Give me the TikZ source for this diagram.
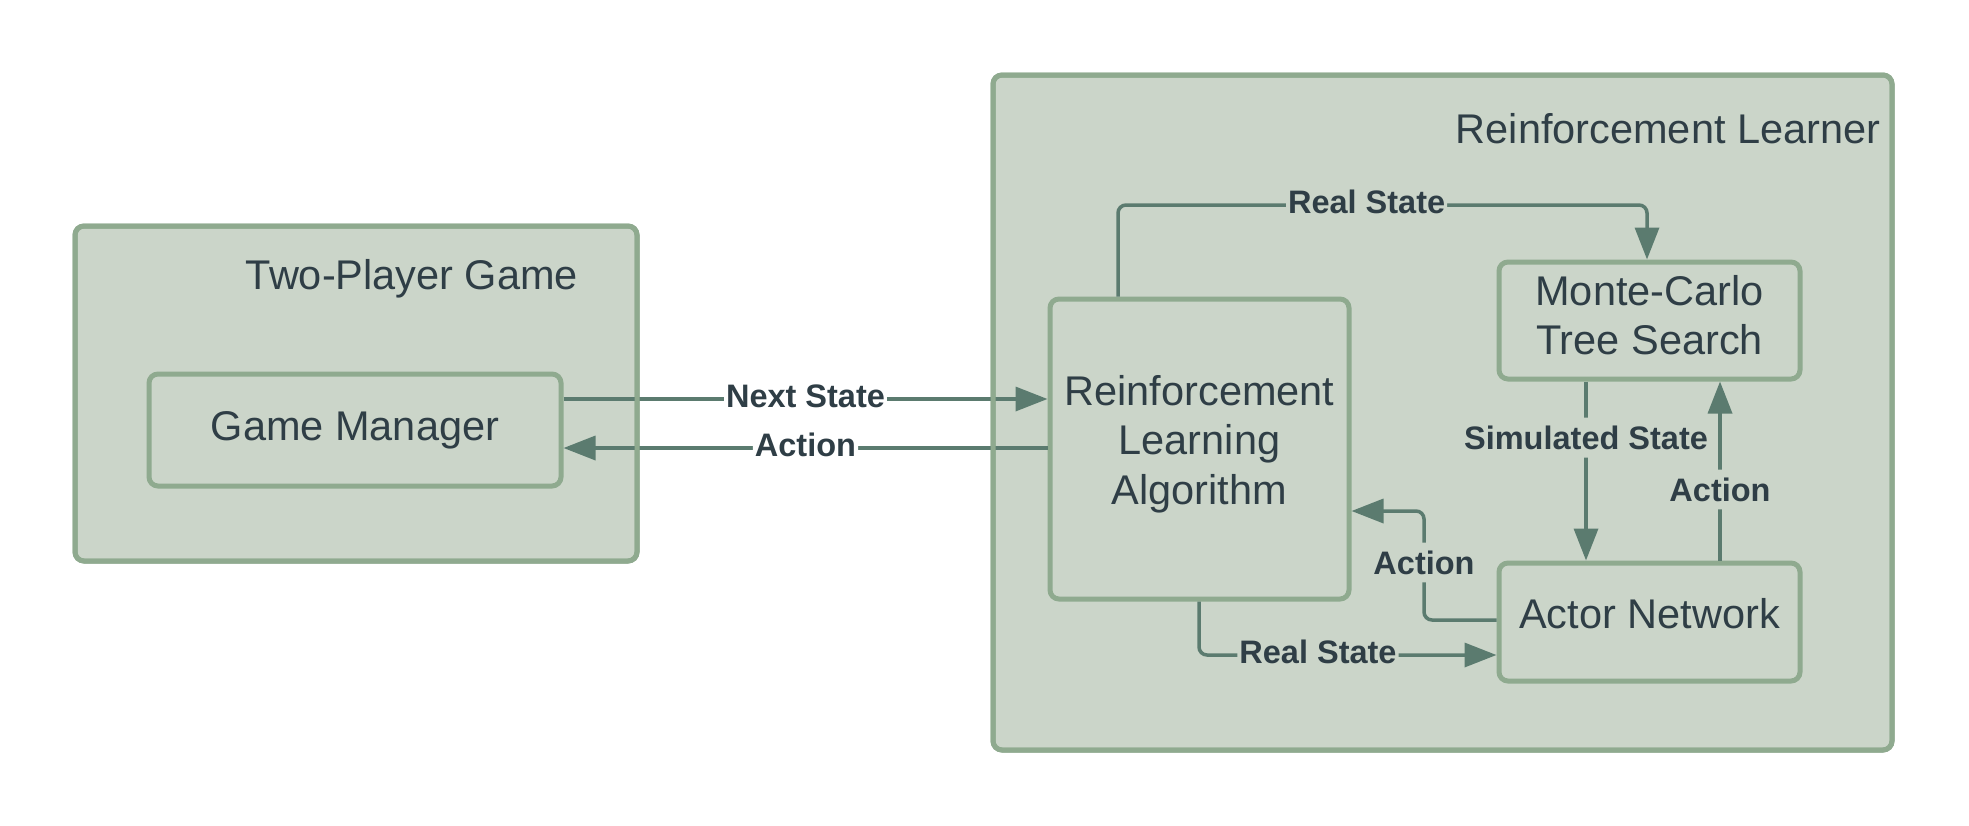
\documentclass[tikz,border=0pt]{standalone}
\usepackage{fontspec}
\setmainfont{Liberation Sans}
\usetikzlibrary{arrows.meta,calc}
\definecolor{sage}{HTML}{CBD5C9}
\definecolor{sageb}{HTML}{8FAA8F}
\definecolor{arr}{HTML}{5B7B6F}
\definecolor{txt}{HTML}{2F3E46}
\begin{document}
\begin{tikzpicture}[x=1pt,y=-1pt,
 group/.style={draw=sageb,fill=sage,line width=5pt,rounded corners=9pt,inner sep=0pt,outer sep=0pt},
 groupline/.style={draw=sageb,line width=5pt,rounded corners=9pt},
 box/.style={draw=sageb,fill=sage,line width=5pt,rounded corners=9pt,align=center,text=txt,font=\fontsize{41.5}{49.5}\selectfont,inner sep=0pt},
 title/.style={text=txt,font=\fontsize{41.5}{48}\selectfont,inner sep=0pt},
 conn/.style={draw=arr,line width=3.5pt,rounded corners=8pt,-{Triangle[length=32pt,width=24pt]}},
 lbl/.style={text=txt,font=\fontsize{32.5}{38}\selectfont\bfseries,fill=sage,inner xsep=2pt,inner ysep=8pt,yshift=3pt},
]
\useasboundingbox (0,0) rectangle (1969,825);
% groups
\node[group,minimum width=562pt,minimum height=335pt] (lg) at (356,393.5) {};
\node[group,minimum width=899pt,minimum height=675pt] (rg) at (1442.5,412.5) {};
\node[title] (lgt) at (412,279) {Two-Player Game};
\node[title] (rgt) at (1668,129) {Reinforcement Learner};
% boxes
\node[box,minimum width=412pt,minimum height=112pt] (gm) at (355,430) {Game Manager};
\node[box,minimum width=299pt,minimum height=300pt,text depth=19pt] (rl) at (1199.5,449) {Reinforcement\\Learning\\Algorithm};
\node[box,minimum width=301pt,minimum height=117pt,text depth=11pt] (mcts) at (1649.5,320.5) {Monte-Carlo\\Tree Search};
\node[box,minimum width=301pt,minimum height=118pt,text depth=18pt] (actor) at (1649.5,622) {Actor Network};
% connectors
\draw[conn] (gm.east |- 0,399) -- node[lbl,fill=white,pos=0.5]{Next State} (rl.west |- 0,399);
\draw[conn] (rl.west |- 0,448) -- node[lbl,fill=white,pos=0.5]{Action} (gm.east |- 0,448);
\draw[conn] (rl.north -| 1118,0) -- (1118,205) -- node[lbl,pos=0.47]{Real State} (1647,205) -- (mcts.north -| 1647,0);
\draw[conn] (mcts.south -| 1586,0) -- node[lbl,pos=0.33]{Simulated State} (actor.north -| 1586,0);
\draw[conn] (actor.north -| 1720,0) -- node[lbl,pos=0.38]{Action} (mcts.south -| 1720,0);
\draw[conn] (actor.west |- 0,620) -- (1424,620) -- node[lbl]{Action} (1424,511) -- (rl.east |- 0,511);
\draw[conn] (rl.south -| 1199,0) -- (1199,655) -- node[lbl,pos=0.4]{Real State} (actor.west |- 0,655);
% group borders over connectors
\draw[groupline] (lg.north west) rectangle (lg.south east);
\draw[groupline] (rg.north west) rectangle (rg.south east);
\end{tikzpicture}
\end{document}
